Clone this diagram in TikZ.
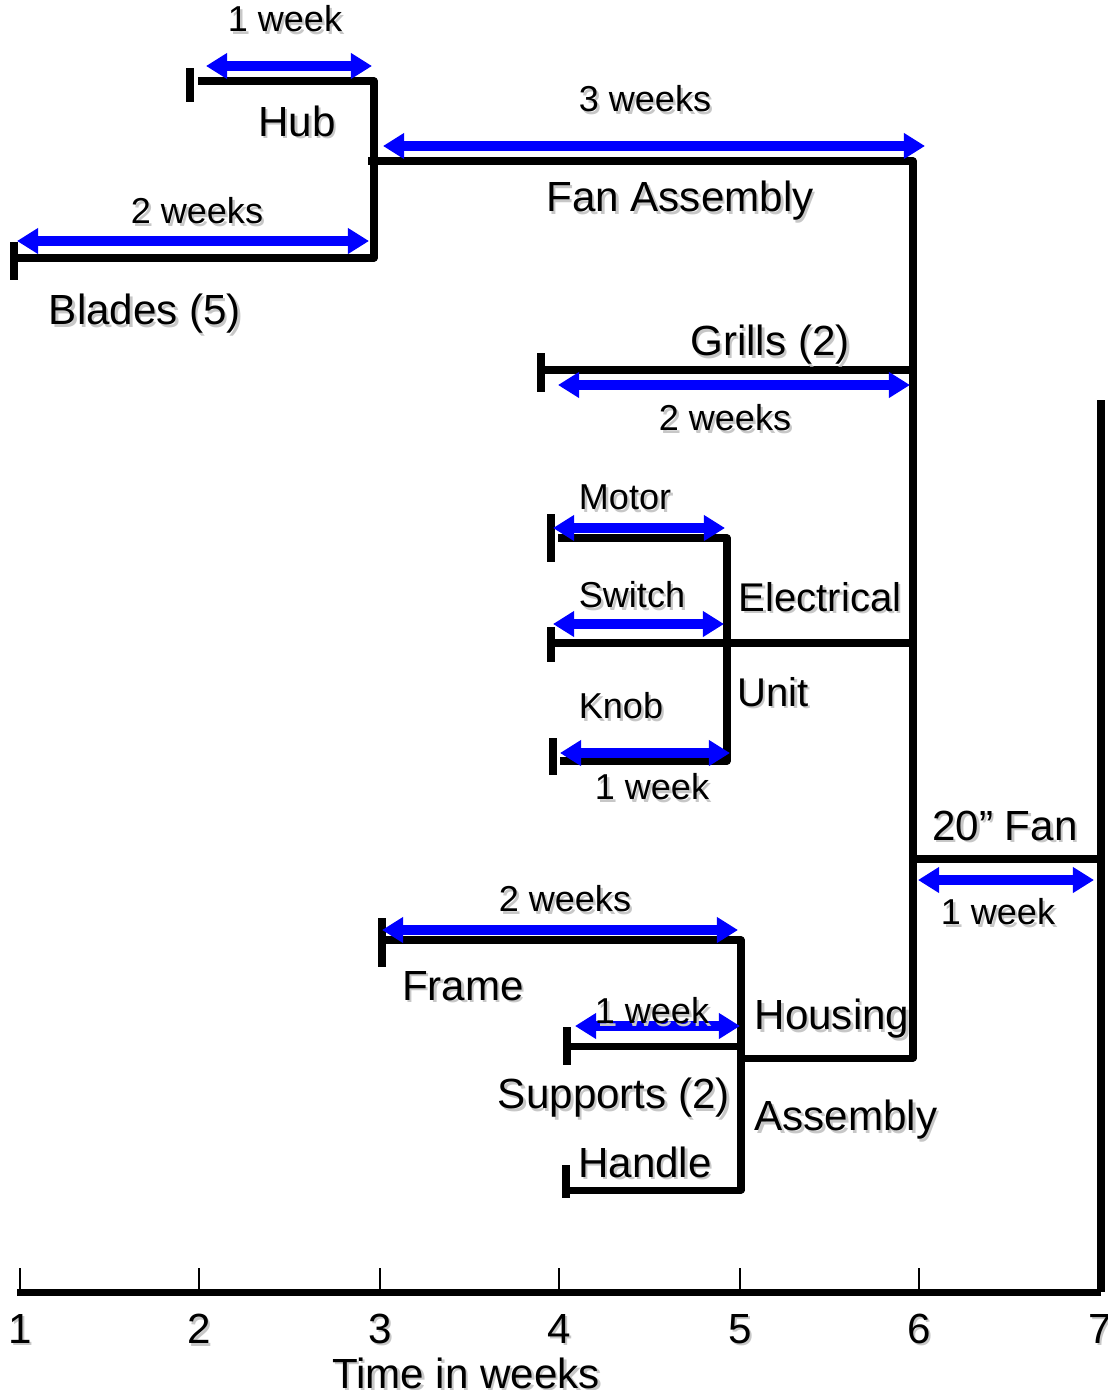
\documentclass[tikz,border=0pt]{standalone}
\usepackage{fontspec}
\setmainfont{Liberation Sans}
\usepackage{tikz}
\usetikzlibrary{arrows.meta}

\newcommand{\shd}[1]{\rlap{\kern1.4pt\raisebox{-1.4pt}{\textcolor{black!22}{#1}}}#1}

\tikzset{
	bar/.style={line width=4pt, line join=round},
	weekarrow/.style={blue, line width=5.2pt, {Triangle[length=12pt,width=14pt]}-{Triangle[length=12pt,width=14pt]}},
	partlabel/.style={font=\fontsize{24}{28}\selectfont, inner sep=0pt, yshift=-2.4pt},
	unitlabel/.style={font=\fontsize{22.8}{27}\selectfont, inner sep=0pt},
	durlabel/.style={font=\fontsize{20.5}{24}\selectfont, inner sep=0pt},
	tickline/.style={line width=0.8pt}
}

\begin{document}
\begin{tikzpicture}[x=0.02cm, y=-0.02cm]
	\useasboundingbox (0,0) rectangle (1108,1390);

	% -- Fan assembly
	\draw[bar] (198,81) -- (374,81) -- (374,258) -- (14,258);
	\draw[bar] (190,68) -- (190,102);
	\draw[bar] (14,242) -- (14,280);
	\draw[bar] (368,161) -- (913,161) -- (913,1058) -- (741,1058);
	\draw[weekarrow] (206,66) -- (372,66);
	\draw[weekarrow] (383,146) -- (925,146);
	\draw[weekarrow] (17,241) -- (369,241);
	\node[durlabel] (hubtime) at (285,20) {\shd{1 week}};
	\node[partlabel] (hub) at (297,118) {\shd{Hub}};
	\node[durlabel] (fantime) at (645,100) {\shd{3 weeks}};
	\node[partlabel] (fanasm) at (680,198) {\shd{Fan Assembly}};
	\node[durlabel] (bladetime) at (197,212) {\shd{2 weeks}};
	\node[partlabel] (blades) at (145,311) {\shd{Blades (5)}};

	% -- Grills
	\draw[bar] (541,370) -- (913,370);
	\draw[bar] (541,353) -- (541,392);
	\draw[weekarrow] (558,385) -- (910,385);
	\node[partlabel] (grills) at (770,342) {\shd{Grills (2)}};
	\node[durlabel] (grilltime) at (725,419) {\shd{2 weeks}};

	% -- Electrical unit
	\draw[bar] (560,761) -- (727,761) -- (727,538) -- (558,538);
	\draw[bar] (551,643) -- (913,643);
	\draw[bar] (551,514) -- (551,562);
	\draw[bar] (551,627) -- (551,662);
	\draw[bar] (553,738) -- (553,775);
	\draw[weekarrow] (553,528) -- (725,528);
	\draw[weekarrow] (553,624) -- (724,624);
	\draw[weekarrow] (560,753) -- (730,753);
	\node[durlabel] (motor) at (625,499) {\shd{Motor}};
	\node[durlabel] (switch) at (632,596) {\shd{Switch}};
	\node[durlabel] (knob) at (621,707) {\shd{Knob}};
	\node[durlabel] (knobtime) at (652,788) {\shd{1 week}};
	\node[unitlabel] (elec) at (820,598) {\shd{Electrical}};
	\node[unitlabel] (unit) at (773,693) {\shd{Unit}};

	% -- Housing assembly
	\draw[bar] (566,1190) -- (741,1190) -- (741,940) -- (382,940);
	\draw[bar] (567,1046) -- (741,1046);
	\draw[bar] (382,918) -- (382,967);
	\draw[bar] (567,1027) -- (567,1065);
	\draw[bar] (566,1165) -- (566,1198);
	\draw[weekarrow] (382,930) -- (738,930);
	\draw[weekarrow] (575,1026) -- (740,1026);
	\node[durlabel] (frametime) at (565,900) {\shd{2 weeks}};
	\node[partlabel] (frame) at (463,983) {\shd{Frame}};
	\node[durlabel] (supptime) at (652,1012) {\shd{1 week}};
	\node[partlabel] (supports) at (614,1095) {\shd{Supports (2)}};
	\node[partlabel] (handle) at (645,1159) {\shd{Handle}};
	\node[partlabel] (housing) at (832,1016) {\shd{Housing}};
	\node[partlabel] (assembly) at (846,1117) {\shd{Assembly}};

	% -- Final fan
	\draw[bar] (913,859) -- (1101,859);
	\draw[bar] (1101,400) -- (1101,1292);
	\draw[weekarrow] (918,880) -- (1094,880);
	\node[partlabel] (fan) at (1005,823) {\shd{20” Fan}};
	\node[durlabel] (fantime2) at (998,913) {\shd{1 week}};

	% -- Time axis
	\draw[bar] (17,1292) -- (1101,1292);
	\foreach \w/\x in {1/20,2/199,3/380,4/559,5/740,6/919,7/1100} {
		\draw[tickline] (\x,1268) -- (\x,1292);
		\node[partlabel] (wk\w) at (\x,1326) {\shd{\w}};
	}
	\node[partlabel] (timelabel) at (466,1370) {\shd{Time in weeks}};
\end{tikzpicture}
\end{document}
